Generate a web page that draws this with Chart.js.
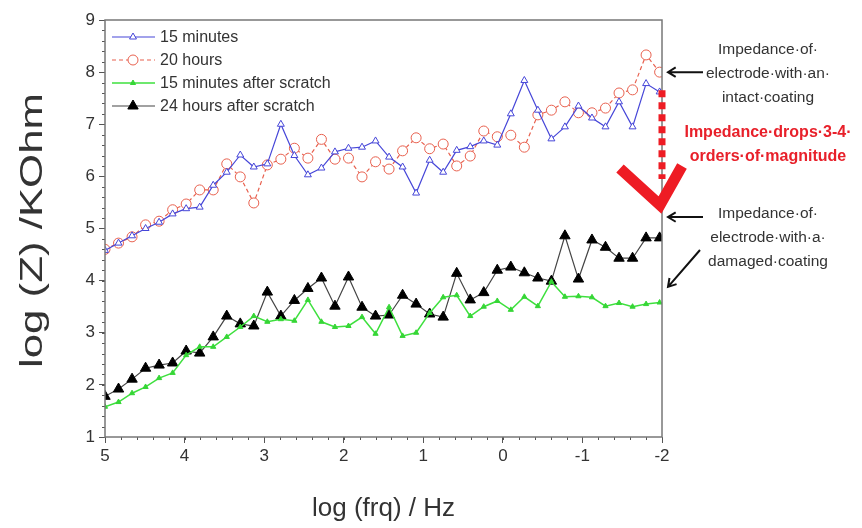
<!DOCTYPE html>
<html>
<head>
<meta charset="utf-8">
<script src="https://cdn.jsdelivr.net/npm/chart.js@4.4.1/dist/chart.umd.min.js"></script>
<style>
  body { margin: 0; background: #fff; }
  #wrap { width: 862px; height: 528px; }
</style>
</head>
<body>
<div id="wrap"><canvas id="impedance_chart" width="862" height="528"></canvas></div>
<script>
const logFreq = [5.00, 4.83, 4.66, 4.49, 4.32, 4.15, 3.98, 3.81, 3.64, 3.47, 3.30, 3.13, 2.96, 2.79,
  2.62, 2.45, 2.28, 2.11, 1.94, 1.77, 1.60, 1.43, 1.26, 1.09, 0.92, 0.75, 0.58, 0.41,
  0.24, 0.07, -0.10, -0.27, -0.44, -0.61, -0.78, -0.95, -1.12, -1.29, -1.46, -1.63, -1.80, -1.97];

const min15 = [4.58, 4.72, 4.86, 5.00, 5.12, 5.28, 5.38, 5.41, 5.83, 6.08, 6.41, 6.18, 6.24, 7.00,
  6.40, 6.03, 6.16, 6.47, 6.54, 6.56, 6.68, 6.37, 6.18, 5.68, 6.31, 6.08, 6.50, 6.57,
  6.68, 6.60, 7.20, 7.84, 7.27, 6.72, 6.95, 7.35, 7.12, 6.95, 7.43, 6.95, 7.78, 7.62];

const hours20 = [4.60, 4.72, 4.84, 5.07, 5.14, 5.36, 5.47, 5.74, 5.74, 6.24, 5.99, 5.49, 6.22, 6.33,
  6.54, 6.35, 6.71, 6.33, 6.35, 5.99, 6.28, 6.14, 6.49, 6.74, 6.53, 6.62, 6.20, 6.39,
  6.87, 6.76, 6.79, 6.56, 7.18, 7.27, 7.43, 7.22, 7.22, 7.31, 7.60, 7.66, 8.33, 8.00];

const min15Scratch = [1.58, 1.67, 1.84, 1.96, 2.13, 2.23, 2.57, 2.73, 2.73, 2.92, 3.11, 3.32, 3.21, 3.26,
  3.23, 3.63, 3.21, 3.11, 3.13, 3.30, 2.98, 3.49, 2.94, 3.00, 3.38, 3.68, 3.72, 3.32,
  3.50, 3.61, 3.44, 3.69, 3.51, 3.98, 3.69, 3.70, 3.68, 3.51, 3.57, 3.50, 3.55, 3.58];

const hours24Scratch = [1.78, 1.92, 2.11, 2.32, 2.38, 2.42, 2.65, 2.61, 2.92, 3.32, 3.17, 3.13, 3.78, 3.32,
  3.62, 3.85, 4.05, 3.51, 4.07, 3.49, 3.32, 3.34, 3.72, 3.55, 3.36, 3.30, 4.14, 3.63,
  3.77, 4.20, 4.26, 4.15, 4.05, 3.99, 4.86, 4.03, 4.78, 4.64, 4.43, 4.43, 4.82, 4.82];

const seriesNames = ['15 minutes', '20 hours', '15 minutes after scratch', '24 hours after scratch'];
const xTicks = [5, 4, 3, 2, 1, 0, -1, -2];
const yTicks = [1, 2, 3, 4, 5, 6, 7, 8, 9];
const yTitle = 'log (Z) /KOhm';

const FONT = '"Liberation Sans", Arial, sans-serif';

function pts(vals) {
  return vals.map((v, i) => ({ x: logFreq[i], y: v }));
}

// frame, minor ticks, legend, y title and the notes on the right
const extras = {
  id: 'extras',
  afterDraw(chart) {
    const ctx = chart.ctx;
    const a = chart.chartArea;
    const xs = chart.scales.x, ys = chart.scales.y;
    ctx.save();

    // minor ticks
    ctx.strokeStyle = '#555';
    ctx.lineWidth = 1;
    ctx.beginPath();
    for (let v = -2; v <= 5.001; v += 0.2) {
      const px = Math.round(xs.getPixelForValue(v)) + 0.5;
      ctx.moveTo(px, a.bottom);
      ctx.lineTo(px, a.bottom + 3);
    }
    for (let v = 1; v <= 9.001; v += 0.2) {
      const py = Math.round(ys.getPixelForValue(v)) + 0.5;
      ctx.moveTo(a.left, py);
      ctx.lineTo(a.left - 3, py);
    }
    ctx.stroke();

    // frame
    ctx.strokeStyle = '#777';
    ctx.lineWidth = 1.5;
    ctx.strokeRect(a.left, a.top, a.right - a.left, a.bottom - a.top);

    // y title (long, stretched like the original)
    ctx.save();
    ctx.font = '32px ' + FONT;
    ctx.fillStyle = '#333';
    ctx.textAlign = 'center';
    ctx.textBaseline = 'middle';
    ctx.translate(33, (a.top + a.bottom) / 2 + 2);
    ctx.rotate(-Math.PI / 2);
    const w = ctx.measureText(yTitle).width;
    ctx.scale(275 / w, 1);
    ctx.fillText(yTitle, 0, 0);
    ctx.restore();

    // legend inside plot
    ctx.font = '16px ' + FONT;
    ctx.textBaseline = 'middle';
    ctx.textAlign = 'left';
    chart.data.datasets.forEach((ds, i) => {
      const y = 37 + i * 23;
      ctx.strokeStyle = ds.borderColor;
      ctx.lineWidth = ds.borderWidth;
      ctx.setLineDash(ds.borderDash || []);
      ctx.beginPath();
      ctx.moveTo(112, y);
      ctx.lineTo(155, y);
      ctx.stroke();
      ctx.setLineDash([]);
      ctx.fillStyle = ds.pointBackgroundColor;
      ctx.strokeStyle = ds.pointBorderColor;
      ctx.lineWidth = 1;
      Chart.helpers.drawPoint(ctx, { pointStyle: ds.pointStyle, radius: ds.pointRadius, borderWidth: 1 }, 133, y);
      ctx.fillStyle = '#333';
      ctx.fillText(ds.label, 160, y + 1);
    });

    // notes
    const xr = xs.getPixelForValue(-2);
    ctx.textAlign = 'center';
    ctx.fillStyle = '#333';
    ctx.font = '15.5px ' + FONT;
    ['Impedance·of·', 'electrode·with·an·', 'intact·coating'].forEach((t, i) => ctx.fillText(t, 768, 50 + i * 24));
    ['Impedance·of·', 'electrode·with·a·', 'damaged·coating'].forEach((t, i) => ctx.fillText(t, 768, 214 + i * 24));
    ctx.fillStyle = '#e8202a';
    ctx.font = 'bold 16px ' + FONT;
    ctx.fillText('Impedance·drops·3-4·', 768, 133);
    ctx.fillText('orders·of·magnitude', 768, 157);

    // black arrows
    function arrow(x1, y1, x2, y2) {
      const ang = Math.atan2(y2 - y1, x2 - x1);
      ctx.strokeStyle = '#111';
      ctx.lineWidth = 2;
      ctx.beginPath();
      ctx.moveTo(x1, y1);
      ctx.lineTo(x2, y2);
      ctx.moveTo(x2 + 9 * Math.cos(ang + Math.PI - 0.55), y2 + 9 * Math.sin(ang + Math.PI - 0.55));
      ctx.lineTo(x2, y2);
      ctx.lineTo(x2 + 9 * Math.cos(ang + Math.PI + 0.55), y2 + 9 * Math.sin(ang + Math.PI + 0.55));
      ctx.stroke();
    }
    arrow(703, ys.getPixelForValue(8.0), xr + 6, ys.getPixelForValue(8.0));
    arrow(703, ys.getPixelForValue(5.22), xr + 6, ys.getPixelForValue(5.22));
    arrow(700, 250, xr + 6, ys.getPixelForValue(3.88));

    // red dashed drop and chevron
    ctx.strokeStyle = '#ee1c24';
    ctx.lineWidth = 7;
    ctx.setLineDash([7, 5]);
    ctx.beginPath();
    ctx.moveTo(xr, ys.getPixelForValue(7.65));
    ctx.lineTo(xr, ys.getPixelForValue(5.95));
    ctx.stroke();
    ctx.setLineDash([]);
    ctx.lineWidth = 11;
    ctx.lineCap = 'butt';
    ctx.lineJoin = 'miter';
    ctx.beginPath();
    ctx.moveTo(xr - 42, ys.getPixelForValue(6.15));
    ctx.lineTo(xr - 2, ys.getPixelForValue(5.45));
    ctx.lineTo(xr + 20, ys.getPixelForValue(6.2));
    ctx.stroke();

    ctx.restore();
  }
};

const ctx = document.getElementById('impedance_chart').getContext('2d');
const chart = new Chart(ctx, {
  type: 'line',
  data: {
    datasets: [{
      label: seriesNames[0],
      data: pts(min15),
      borderColor: '#4646d8',
      borderWidth: 1.2,
      pointStyle: 'triangle',
      pointRadius: 4,
      pointBorderWidth: 1,
      pointBorderColor: '#4646d8',
      pointBackgroundColor: '#ffffff'
    }, {
      label: seriesNames[1],
      data: pts(hours20),
      borderColor: '#e8604e',
      borderWidth: 1.2,
      borderDash: [4, 3],
      pointStyle: 'circle',
      pointRadius: 5,
      pointBorderWidth: 1,
      pointBorderColor: '#e8604e',
      pointBackgroundColor: '#ffffff'
    }, {
      label: seriesNames[2],
      data: pts(min15Scratch),
      borderColor: '#3ee03e',
      borderWidth: 1.5,
      pointStyle: 'triangle',
      pointRadius: 3,
      pointBorderWidth: 1,
      pointBorderColor: '#36d636',
      pointBackgroundColor: '#36d636'
    }, {
      label: seriesNames[3],
      data: pts(hours24Scratch),
      borderColor: '#444444',
      borderWidth: 1.2,
      pointStyle: 'triangle',
      pointRadius: 6,
      pointBorderWidth: 1,
      pointBorderColor: '#000000',
      pointBackgroundColor: '#000000'
    }]
  },
  options: {
    responsive: false,
    animation: false,
    layout: { padding: { left: 0, right: 200, top: 20, bottom: 0 } },
    plugins: { legend: { display: false }, tooltip: { enabled: false } },
    scales: {
      x: {
        type: 'linear',
        min: -2, max: 5,
        reverse: true,
        afterFit: s => { s.height = 91; },
        afterBuildTicks: s => { s.ticks = xTicks.map(v => ({ value: v })); },
        grid: { drawOnChartArea: false, drawTicks: true, tickLength: 6, color: '#555' },
        border: { display: false },
        ticks: { color: '#333', font: { family: FONT, size: 17 }, padding: 3, maxRotation: 0 },
        title: { display: true, text: 'log (frq) / Hz', color: '#333', font: { family: FONT, size: 26 }, padding: { top: 18 } }
      },
      y: {
        type: 'linear',
        min: 1, max: 9,
        afterFit: s => { s.width = 105; },
        afterBuildTicks: s => { s.ticks = yTicks.map(v => ({ value: v })); },
        grid: { drawOnChartArea: false, drawTicks: true, tickLength: 6, color: '#555' },
        border: { display: false },
        ticks: { color: '#333', font: { family: FONT, size: 17 }, padding: 4 },
        title: { display: false }
      }
    }
  },
  plugins: [extras]
});
</script>
</body>
</html>
